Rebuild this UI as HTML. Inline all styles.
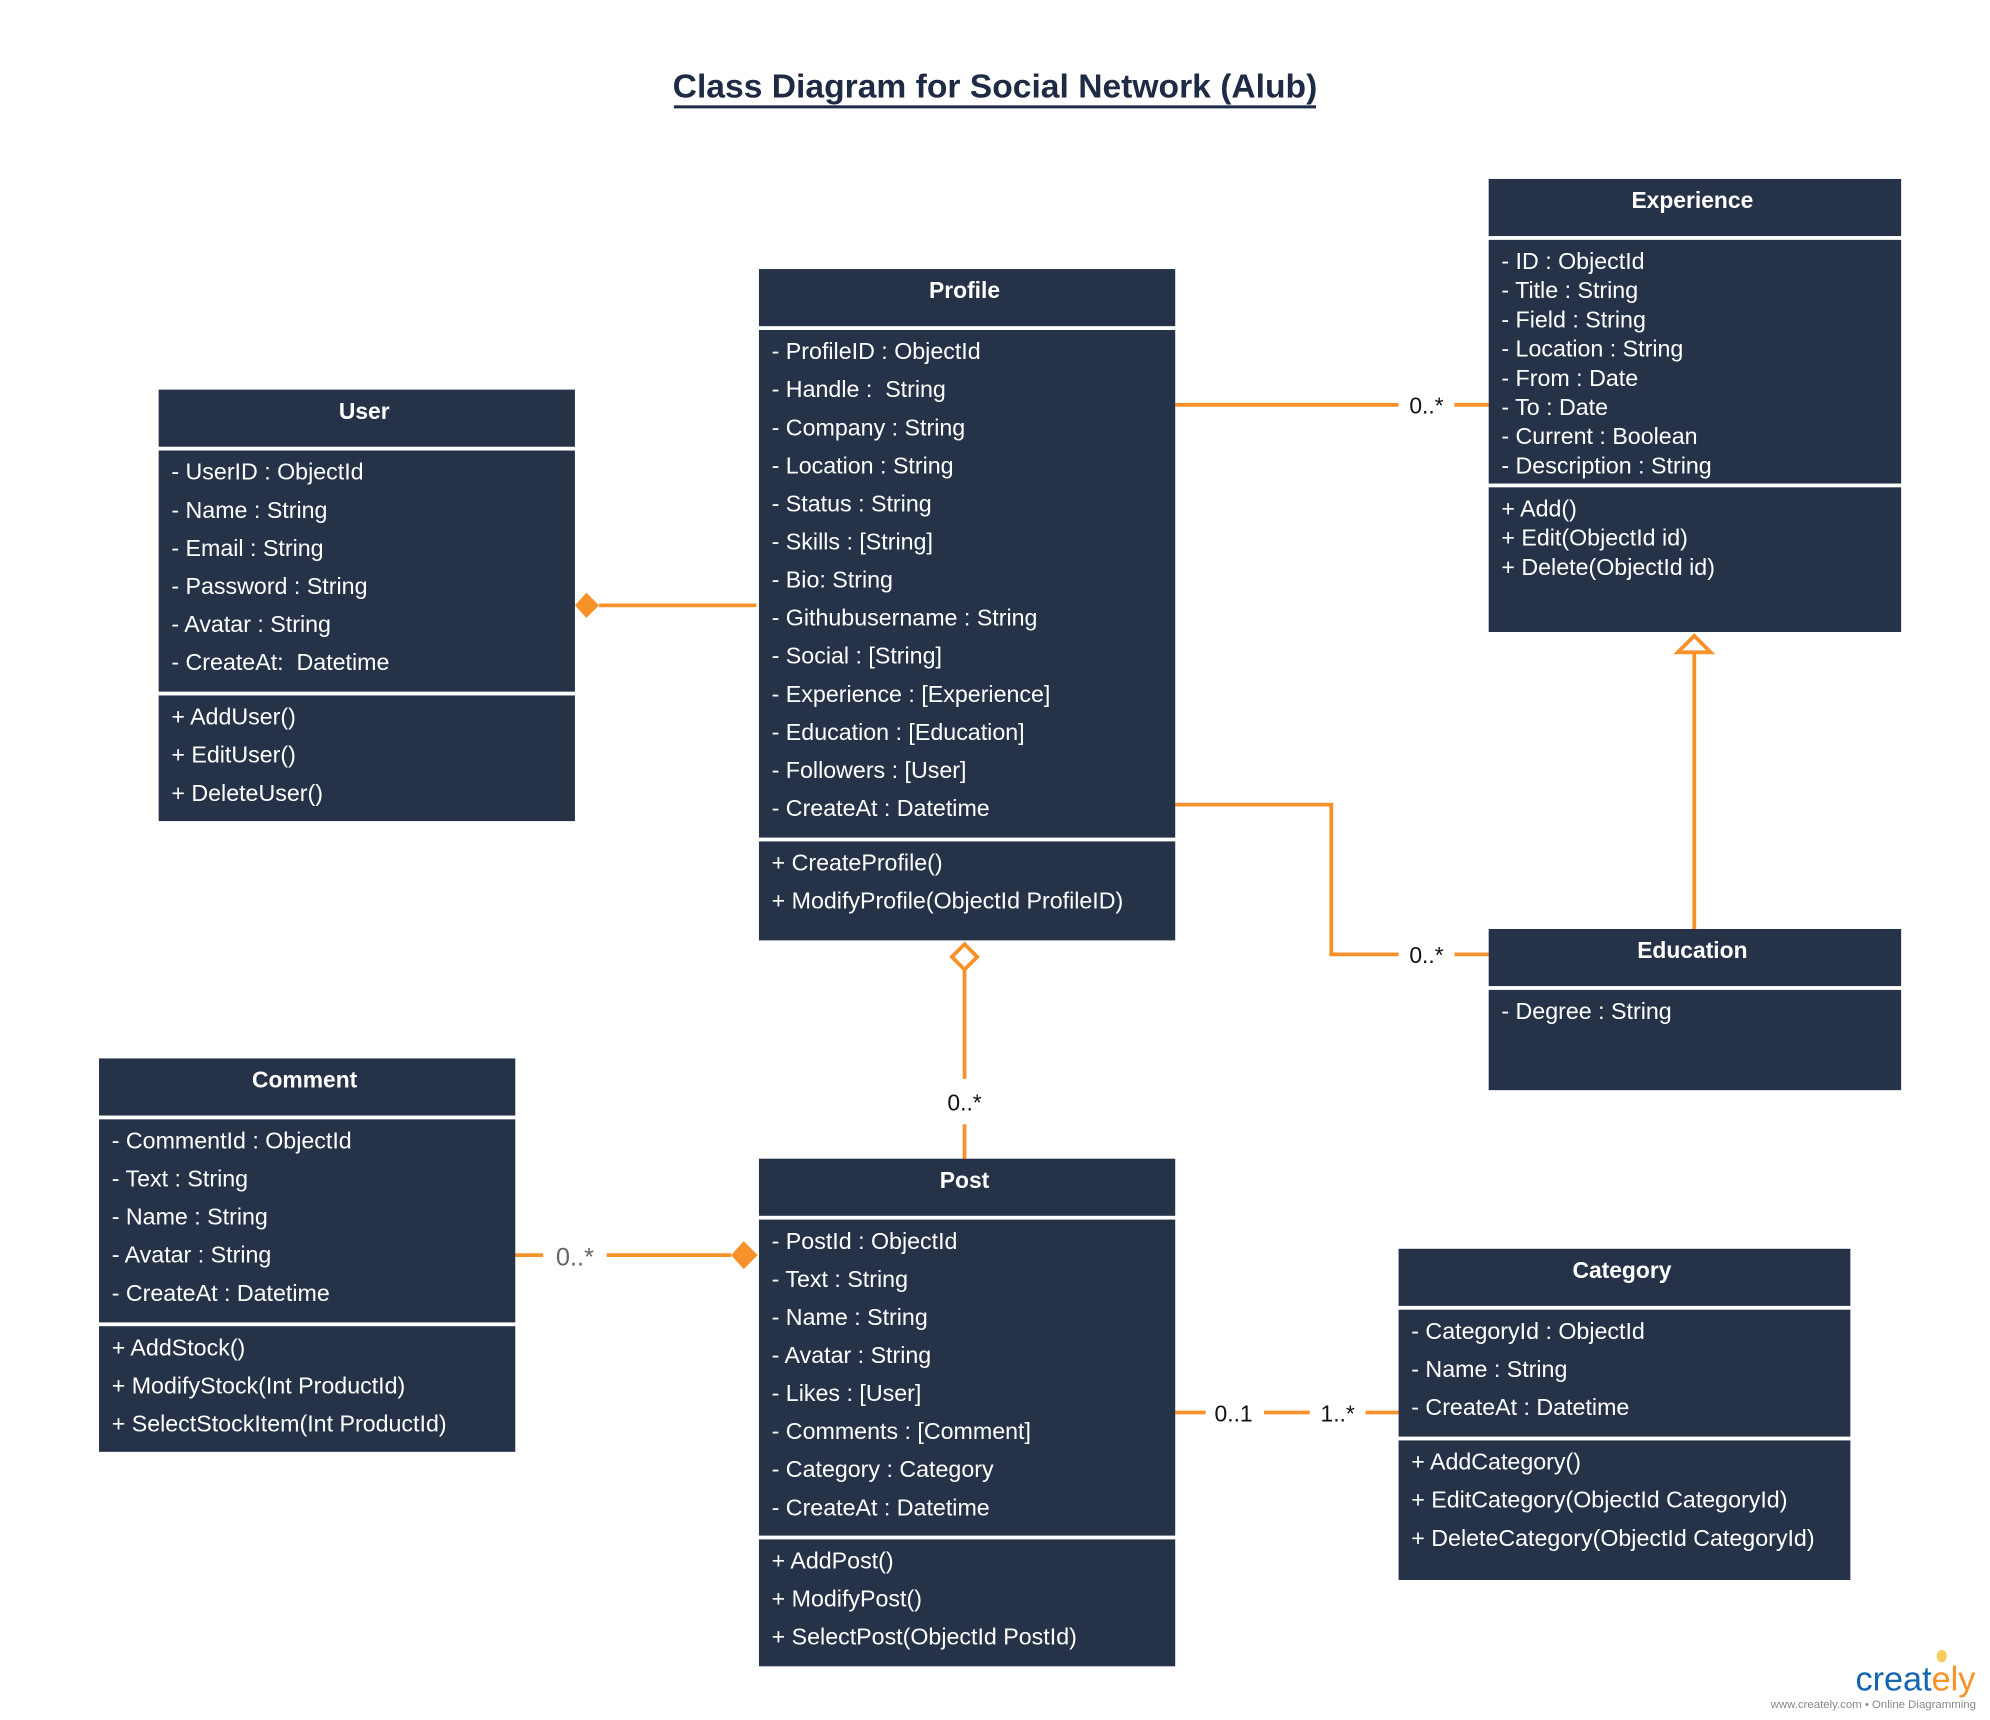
<!DOCTYPE html>
<html><head><meta charset="utf-8">
<style>
html,body{margin:0;padding:0;background:#fff;}
svg{display:block;}
text{font-family:"Liberation Sans",Arial,sans-serif;white-space:pre;}
</style></head>
<body>
<svg id="c" width="1990" height="1720" viewBox="0 0 1568 1355.3" xmlns="http://www.w3.org/2000/svg">
<rect width="1568" height="1356" fill="#fff"/>
<text x="784" y="77" text-anchor="middle" font-size="26.5" font-weight="bold" fill="#1f2a44">Class Diagram for Social Network (Alub)</text>
<rect x="531" y="83" width="506" height="2.4" fill="#1f2a44"/>
<g id="links" stroke="#f7922b" stroke-width="3" fill="none">
  <path d="M926 319H1102M1146 319H1173"/>
  <path d="M472 477H596"/>
  <path d="M926 634H1049V752H1102M1146 752H1173"/>
  <path d="M1335 732V514"/>
  <path d="M760 764V850M760 886V913"/>
  <path d="M406 989H428M478 989H576"/>
  <path d="M926 1113H950M996 1113H1032M1076 1113H1102"/>
</g>
<path d="M453 477L462 467L472 477L462 487Z" fill="#f7922b"/>
<path d="M576 989L586 978L597 989L586 1000Z" fill="#f7922b"/>
<path d="M760 744L770 754L760 764L750 754Z" fill="#fff" stroke="#f7922b" stroke-width="3"/>
<path d="M1335 501L1348 514H1322Z" fill="#fff" stroke="#f7922b" stroke-width="3"/>
<g font-size="18" fill="#111" text-anchor="middle">
<text x="1124" y="326">0..*</text>
<text x="1124" y="759">0..*</text>
<text x="760" y="875">0..*</text>
<text x="453" y="997" fill="#666" font-size="20">0..*</text>
<text x="972" y="1120">0..1</text>
<text x="1054" y="1120">1..*</text>
</g>
<g id="boxes"></g>
<g>
<ellipse cx="1530" cy="1305" rx="4" ry="5" fill="#f5cf5e"/>
<text x="1462" y="1332" font-size="27" fill="#1565b0">creat<tspan fill="#f7922b">ely</tspan></text>
<text x="1557" y="1346" font-size="9" fill="#888" text-anchor="end">www.creately.com • Online Diagramming</text>
</g>
</svg>
<script>
const classNames = ["User","Profile","Experience","Education","Comment","Post","Category"];
const classAttributes = [
 ["- UserID : ObjectId","- Name : String","- Email : String","- Password : String","- Avatar : String","- CreateAt:  Datetime"],
 ["- ProfileID : ObjectId","- Handle :  String","- Company : String","- Location : String","- Status : String","- Skills : [String]","- Bio: String","- Githubusername : String","- Social : [String]","- Experience : [Experience]","- Education : [Education]","- Followers : [User]","- CreateAt : Datetime"],
 ["- ID : ObjectId","- Title : String","- Field : String","- Location : String","- From : Date","- To : Date","- Current : Boolean","- Description : String"],
 ["- Degree : String"],
 ["- CommentId : ObjectId","- Text : String","- Name : String","- Avatar : String","- CreateAt : Datetime"],
 ["- PostId : ObjectId","- Text : String","- Name : String","- Avatar : String","- Likes : [User]","- Comments : [Comment]","- Category : Category","- CreateAt : Datetime"],
 ["- CategoryId : ObjectId","- Name : String","- CreateAt : Datetime"]
];
const classMethods = [
 ["+ AddUser()","+ EditUser()","+ DeleteUser()"],
 ["+ CreateProfile()","+ ModifyProfile(ObjectId ProfileID)"],
 ["+ Add()","+ Edit(ObjectId id)","+ Delete(ObjectId id)"],
 [],
 ["+ AddStock()","+ ModifyStock(Int ProductId)","+ SelectStockItem(Int ProductId)"],
 ["+ AddPost()","+ ModifyPost()","+ SelectPost(ObjectId PostId)"],
 ["+ AddCategory()","+ EditCategory(ObjectId CategoryId)","+ DeleteCategory(ObjectId CategoryId)"]
];
const L = [
 {x:125,w:328,hy:307,ay:355,ah:190,my:548,mh:99,rs:30,ms:30},
 {x:598,w:328,hy:212,ay:260,ah:400,my:663,mh:78,rs:30,ms:30},
 {x:1173,w:325,hy:141,ay:189,ah:192,my:384,mh:114,rs:23,ms:23},
 {x:1173,w:325,hy:732,ay:780,ah:79,my:0,mh:0,rs:30,ms:30},
 {x:78,w:328,hy:834,ay:882,ah:160,my:1045,mh:99,rs:30,ms:30},
 {x:598,w:328,hy:913,ay:961,ah:249,my:1213,mh:100,rs:30,ms:30},
 {x:1102,w:356,hy:984,ay:1032,ah:100,my:1135,mh:110,rs:30,ms:30}
];
const NS="http://www.w3.org/2000/svg";
const root=document.getElementById('boxes');
function mk(tag,attrs,parent){const e=document.createElementNS(NS,tag);for(const k in attrs)e.setAttribute(k,attrs[k]);parent.appendChild(e);return e;}
classNames.forEach((name,i)=>{
 const l=L[i];const slug=name.toLowerCase();
 const g=mk('g',{},root);
 
 
 const h=mk('rect',{x:l.x,y:l.hy,width:l.w,height:45,fill:'#263248'},g);
 
 
 const t=mk('text',{x:l.x+l.w/2-2,y:l.hy+23,'text-anchor':'middle','font-size':18,'font-weight':'bold',fill:'#fff'},g);
 t.textContent=name;
 
 
 const a=mk('rect',{x:l.x,y:l.ay,width:l.w,height:l.ah,fill:'#263248'},g);
 
 
 classAttributes[i].forEach((s,j)=>{
  const tx=mk('text',{x:l.x+10,y:l.ay+23+j*l.rs,'font-size':18.3,fill:'#fff'},g);
  tx.textContent=s;
  
  
 });
 if(l.mh>0){
  const m=mk('rect',{x:l.x,y:l.my,width:l.w,height:l.mh,fill:'#263248'},g);
  
  
  classMethods[i].forEach((s,j)=>{
   const tx=mk('text',{x:l.x+10,y:l.my+23+j*l.ms,'font-size':18.3,fill:'#fff'},g);
   tx.textContent=s;
   
   
  });
 }
});
</script>
</body></html>
